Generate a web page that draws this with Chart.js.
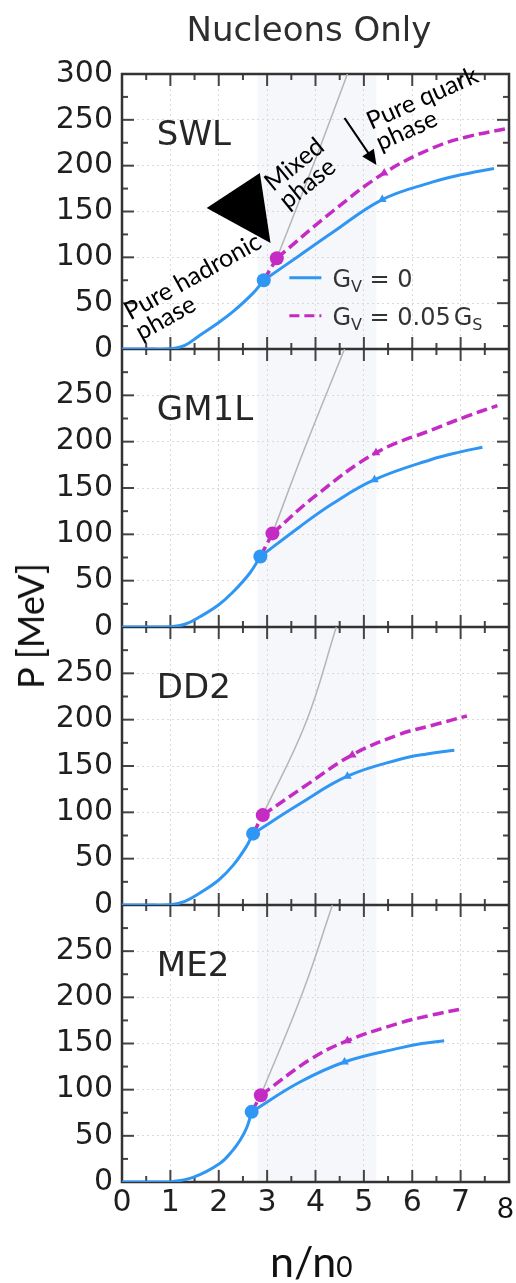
<!DOCTYPE html>
<html lang="en">
<head>
<meta charset="utf-8">
<title>Nucleons Only</title>
<script src="https://cdn.jsdelivr.net/npm/chart.js@4.4.1/dist/chart.umd.min.js"></script>
<style>
  body { margin: 0; background: #fff; }
  .figure { position: relative; width: 516px; height: 1283px; overflow: hidden; }
  .figure canvas { position: absolute; left: 0; top: 0; }
  .title {
    position: absolute; left: 109px; width: 400px; top: 9px; line-height: 40px;
    text-align: center; font-family: "DejaVu Sans"; font-size: 34px; color: #2e2e2e;
  }
  .y-label {
    position: absolute; left: 30px; top: 626px; white-space: nowrap;
    transform: translate(-50%, -50%) rotate(-90deg);
    font-family: Lato; font-size: 36px; color: #111;
  }
  .x-label { position: absolute; left: 270px; top: 1235px; font-family: Lato; font-size: 43px; color: #111; }
  .x-label span { font-size: 28px; }
  .x-eight { position: absolute; left: 497px; top: 1189px; font-family: Lato; font-size: 29px; color: #111; }
</style>
</head>
<body>
<div class="figure">
  <canvas id="eosChart" width="516" height="1283"></canvas>
  <div class="title">Nucleons Only</div>
  <div class="y-label">P [MeV]</div>
  <div class="x-label">n/n<span>0</span></div>
  <div class="x-eight">8</div>
</div>

<script>
// axis ticks
const xTicks = [0, 1, 2, 3, 4, 5, 6, 7];
const yTicks = [0, 50, 100, 150, 200, 250, 300];
const panelNames = ["SWL", "GM1L", "DD2", "ME2"];
const mixedBand = [2.8, 5.26];

// SWL  [n/n0, P]
const swlGv0 = [[0, 0], [0.5, 0], [1, 0.3], [1.3, 4], [1.61, 15], [2.0, 29], [2.3, 41], [2.71, 61], [2.93, 75], [3.67, 102], [4.35, 127], [5.38, 163], [6.41, 182], [7.0, 190], [7.69, 197]];
const swlGv05 = [[2.93, 75], [3.2, 99], [4.35, 150], [5.42, 192], [6.41, 219], [7.1, 231], [8.0, 241]];
const swlHadronic = [[3.2, 99], [4.0, 207], [4.66, 300]];
const swlMarks0 = [[2.93, 75], [5.38, 163]];
const swlMarks05 = [[3.2, 99], [5.42, 192]];

// GM1L
const gm1Gv0 = [[0, 0], [0.5, 0], [1, 0.3], [1.3, 3], [1.61, 11], [2.0, 24], [2.3, 38], [2.64, 58], [2.86, 76], [3.67, 108], [4.35, 133], [5.22, 159], [6.41, 181], [7.0, 189], [7.45, 194]];
const gm1Gv05 = [[2.86, 76], [3.11, 101], [4.01, 142], [5.25, 188], [6.42, 213], [7.11, 227], [7.76, 239]];
const gm1Hadronic = [[3.11, 101], [3.77, 192], [4.6, 300]];
const gm1Marks0 = [[2.86, 76], [5.22, 159]];
const gm1Marks05 = [[3.11, 101], [5.25, 188]];

// DD2
const dd2Gv0 = [[0, 0], [0.5, 0], [1, 0.3], [1.3, 4], [1.61, 13], [2.0, 27], [2.3, 43], [2.57, 63], [2.71, 77], [3.67, 109], [4.66, 139], [5.73, 157], [6.3, 163], [6.87, 167]];
const dd2Gv05 = [[2.71, 77], [2.91, 97], [3.8, 129], [4.76, 162], [5.73, 184], [6.42, 194], [7.13, 204]];
const dd2Hadronic = [[2.91, 97], [3.81, 198], [4.43, 300]];
const dd2Marks0 = [[2.71, 77], [4.66, 139]];
const dd2Marks05 = [[2.91, 97], [4.76, 162]];

// ME2
const me2Gv0 = [[0, 0], [0.5, 0], [1, 0.3], [1.47, 5], [2.02, 20], [2.3, 35], [2.45, 46], [2.58, 59], [2.68, 76], [3.67, 108], [4.6, 130], [5.73, 145], [6.2, 150], [6.66, 153]];
const me2Gv05 = [[2.68, 76], [2.87, 94], [3.9, 133], [4.66, 153], [5.73, 172], [6.42, 181], [7.07, 188]];
const me2Hadronic = [[2.87, 94], [3.74, 206], [4.35, 300]];
const me2Marks0 = [[2.68, 76], [4.6, 130]];
const me2Marks05 = [[2.87, 94], [4.66, 153]];

document.addEventListener("DOMContentLoaded", function () {
  const blue = "#3096f3";
  const magenta = "#c42ac4";
  const tickFont = { family: "'DejaVu Sans'", size: 30 };

  const panels = [
    { gv0: swlGv0, gv05: swlGv05, hadronic: swlHadronic, marks0: swlMarks0, marks05: swlMarks05 },
    { gv0: gm1Gv0, gv05: gm1Gv05, hadronic: gm1Hadronic, marks0: gm1Marks0, marks05: gm1Marks05 },
    { gv0: dd2Gv0, gv05: dd2Gv05, hadronic: dd2Hadronic, marks0: dd2Marks0, marks05: dd2Marks05 },
    { gv0: me2Gv0, gv05: me2Gv05, hadronic: me2Hadronic, marks0: me2Marks0, marks05: me2Marks05 },
  ];
  // panel heights in px (top one is a bit shorter in the original)
  const panelWeights = [275, 278, 278, 277];

  const toXY = (pts) => pts.map(([x, y]) => ({ x: x, y: y }));

  // cut a curve at a phase-transition point so the kink there is kept
  function splitAt(pts, mark) {
    const k = pts.findIndex(([x, y]) => x === mark[0] && y === mark[1]);
    return [pts.slice(0, k + 1), pts.slice(k)];
  }

  const datasets = [];
  panels.forEach((p, i) => {
    const yID = "y" + i;
    const lineStyle = { yAxisID: yID, pointRadius: 0, tension: 0.4, fill: false };

    datasets.push({
      ...lineStyle,
      label: panelNames[i] + " hadronic",
      data: toXY(p.hadronic),
      borderColor: "#b5b5b5",
      borderWidth: 1.5,
      order: 3,
    });
    splitAt(p.gv0, p.marks0[0]).forEach((part) => {
      datasets.push({
        ...lineStyle,
        label: panelNames[i] + " Gv=0",
        data: toXY(part),
        borderColor: blue,
        borderWidth: 3,
        order: 2,
      });
    });
    splitAt(p.gv05, p.marks05[0]).forEach((part) => {
      datasets.push({
        ...lineStyle,
        label: panelNames[i] + " Gv=0.05Gs",
        data: toXY(part),
        borderColor: magenta,
        borderWidth: 3.5,
        borderDash: [11, 5],
        order: 1,
      });
    });
    [[p.marks0, blue], [p.marks05, magenta]].forEach(([marks, color]) => {
      datasets.push({
        label: panelNames[i] + " transitions",
        data: toXY(marks),
        yAxisID: yID,
        showLine: false,
        pointStyle: ["circle", "triangle"],
        pointRadius: [7, 5],
        pointBackgroundColor: color,
        pointBorderColor: color,
        pointBorderWidth: 0,
        order: 0,
      });
    });
  });

  const scales = {
    x: {
      type: "linear",
      position: "bottom",
      min: 0,
      max: 8,
      afterFit: (s) => { s.height = 101; },
      afterBuildTicks: (s) => { s.ticks = xTicks.map((v) => ({ value: v })); },
      ticks: { autoSkip: false, maxRotation: 0, padding: 3, color: "#1f1f1f", font: tickFont },
      grid: { color: "#dadada", drawTicks: false },
      border: { display: false, dash: [2, 3] },
    },
  };
  panelNames.forEach((name, i) => {
    scales["y" + i] = {
      type: "linear",
      position: "left",
      stack: "panels",
      stackWeight: panelWeights[i],
      weight: 10 - i,
      min: 0,
      max: 300,
      afterFit: (s) => { s.width = 122; },
      afterBuildTicks: (s) => {
        s.ticks = yTicks.filter((v) => i === 0 || v < 300).map((v) => ({ value: v }));
      },
      ticks: { autoSkip: false, padding: 9, color: "#1f1f1f", font: tickFont },
      grid: { color: "#dadada", drawTicks: false },
      border: { display: false, dash: [2, 3] },
    };
  });

  // annotation geometry, in data units of the top panel
  const notes = {
    hadronic: { at: [0.17, 31], angle: -29, lines: ["Pure hadronic", "phase"] },
    mixed: { at: [3.12, 171], angle: -39, lines: ["Mixed", "phase"] },
    quark: { at: [5.15, 239], angle: -24, lines: ["Pure quark", "phase"] },
    arrow: [[4.6, 252], [5.26, 200.7]],
    triangle: [[1.75, 153.8], [2.85, 192], [3.07, 115.6]],
    legend: [3.46, 77.8],
  };

  function line(ctx, x1, y1, x2, y2) {
    ctx.beginPath();
    ctx.moveTo(x1, y1);
    ctx.lineTo(x2, y2);
    ctx.stroke();
  }

  // draws e.g. G_V = 0 with smaller subscripts
  function mathText(ctx, x, y, parts) {
    let cx = x;
    parts.forEach(([txt, kind]) => {
      if (kind === "gap") { cx += txt; return; }
      ctx.font = kind === "sub" ? "16px 'DejaVu Sans'" : "24px 'DejaVu Sans'";
      ctx.fillText(txt, cx, kind === "sub" ? y + 5 : y);
      cx += ctx.measureText(txt).width;
    });
  }

  const decor = {
    id: "decor",
    beforeDraw(chart) {
      const { ctx, chartArea, scales } = chart;
      const x1 = scales.x.getPixelForValue(mixedBand[0]);
      const x2 = scales.x.getPixelForValue(mixedBand[1]);
      ctx.save();
      ctx.fillStyle = "#f6f7fa";
      ctx.fillRect(x1, chartArea.top, x2 - x1, chartArea.bottom - chartArea.top);
      ctx.restore();
    },
    beforeDatasetsDraw(chart) {
      const { ctx, chartArea, scales } = chart;
      const xs = scales.x;
      ctx.save();
      // inward ticks on all four sides of every panel
      ctx.strokeStyle = "#444";
      ctx.lineWidth = 2;
      panelNames.forEach((name, i) => {
        const ys = scales["y" + i];
        for (let v = 25; v < 300; v += 25) {
          const py = ys.getPixelForValue(v);
          const len = v % 50 === 0 ? 12 : 6;
          line(ctx, xs.left, py, xs.left + len, py);
          line(ctx, xs.right, py, xs.right - len, py);
        }
        for (let v = 0.5; v < 8; v += 0.5) {
          const px = xs.getPixelForValue(v);
          const len = Number.isInteger(v) ? 12 : 6;
          line(ctx, px, ys.top, px, ys.top + len);
          line(ctx, px, ys.bottom, px, ys.bottom - len);
        }
      });
      // frame and panel separators
      ctx.strokeStyle = "#333";
      ctx.lineWidth = 2.5;
      ctx.strokeRect(chartArea.left, chartArea.top, chartArea.right - chartArea.left, chartArea.bottom - chartArea.top);
      for (let i = 0; i < 3; i++) {
        const yb = scales["y" + i].bottom;
        line(ctx, chartArea.left, yb, chartArea.right, yb);
      }
      ctx.restore();
    },
    afterDatasetsDraw(chart) {
      const { ctx, scales } = chart;
      const xs = scales.x;
      const ys = scales.y0;
      const px = (pt) => [xs.getPixelForValue(pt[0]), ys.getPixelForValue(pt[1])];
      ctx.save();

      // panel names
      ctx.fillStyle = "#262626";
      ctx.font = "34px 'DejaVu Sans'";
      ctx.textBaseline = "alphabetic";
      panelNames.forEach((name, i) => {
        ctx.fillText(name, xs.getPixelForValue(0.72), scales["y" + i].getPixelForValue(223));
      });

      // legend
      const [lx, ly] = px(notes.legend);
      ctx.lineWidth = 3;
      ctx.strokeStyle = blue;
      line(ctx, lx, ly, lx + 32, ly);
      ctx.strokeStyle = magenta;
      ctx.setLineDash([10, 5]);
      line(ctx, lx, ly + 38, lx + 32, ly + 38);
      ctx.setLineDash([]);
      ctx.fillStyle = "#333";
      mathText(ctx, lx + 43, ly + 9, [["G", "main"], ["V", "sub"], [" = 0", "main"]]);
      mathText(ctx, lx + 43, ly + 47, [["G", "main"], ["V", "sub"], [" = 0.05", "main"], [3, "gap"], ["G", "main"], ["S", "sub"]]);

      // phase annotations
      ctx.fillStyle = "#000";
      ctx.font = "25px Lato";
      ["hadronic", "mixed", "quark"].forEach((key) => {
        const n = notes[key];
        const [ax, ay] = px(n.at);
        ctx.save();
        ctx.translate(ax, ay);
        ctx.rotate((n.angle * Math.PI) / 180);
        n.lines.forEach((t, k) => ctx.fillText(t, 0, k * 23));
        ctx.restore();
      });

      // arrow into the quark phase
      const [a1x, a1y] = px(notes.arrow[0]);
      const [a2x, a2y] = px(notes.arrow[1]);
      const ang = Math.atan2(a2y - a1y, a2x - a1x);
      ctx.strokeStyle = "#000";
      ctx.lineWidth = 2.2;
      line(ctx, a1x, a1y, a2x - 10 * Math.cos(ang), a2y - 10 * Math.sin(ang));
      ctx.beginPath();
      ctx.moveTo(a2x, a2y);
      ctx.lineTo(a2x - 15 * Math.cos(ang) + 7 * Math.sin(ang), a2y - 15 * Math.sin(ang) - 7 * Math.cos(ang));
      ctx.lineTo(a2x - 15 * Math.cos(ang) - 7 * Math.sin(ang), a2y - 15 * Math.sin(ang) + 7 * Math.cos(ang));
      ctx.closePath();
      ctx.fill();

      // big black pointer
      ctx.beginPath();
      notes.triangle.forEach((pt, k) => {
        const [tx, ty] = px(pt);
        if (k === 0) ctx.moveTo(tx, ty);
        else ctx.lineTo(tx, ty);
      });
      ctx.closePath();
      ctx.fill();

      ctx.restore();
    },
  };

  new Chart(document.getElementById("eosChart"), {
    type: "line",
    data: { datasets: datasets },
    options: {
      responsive: false,
      animation: false,
      devicePixelRatio: 1,
      layout: { padding: { top: 74, right: 5, bottom: 0, left: 0 } },
      scales: scales,
      plugins: {
        legend: { display: false },
        title: { display: false },
        tooltip: { enabled: false },
      },
    },
    plugins: [decor],
  });
});
</script>
</body>
</html>
